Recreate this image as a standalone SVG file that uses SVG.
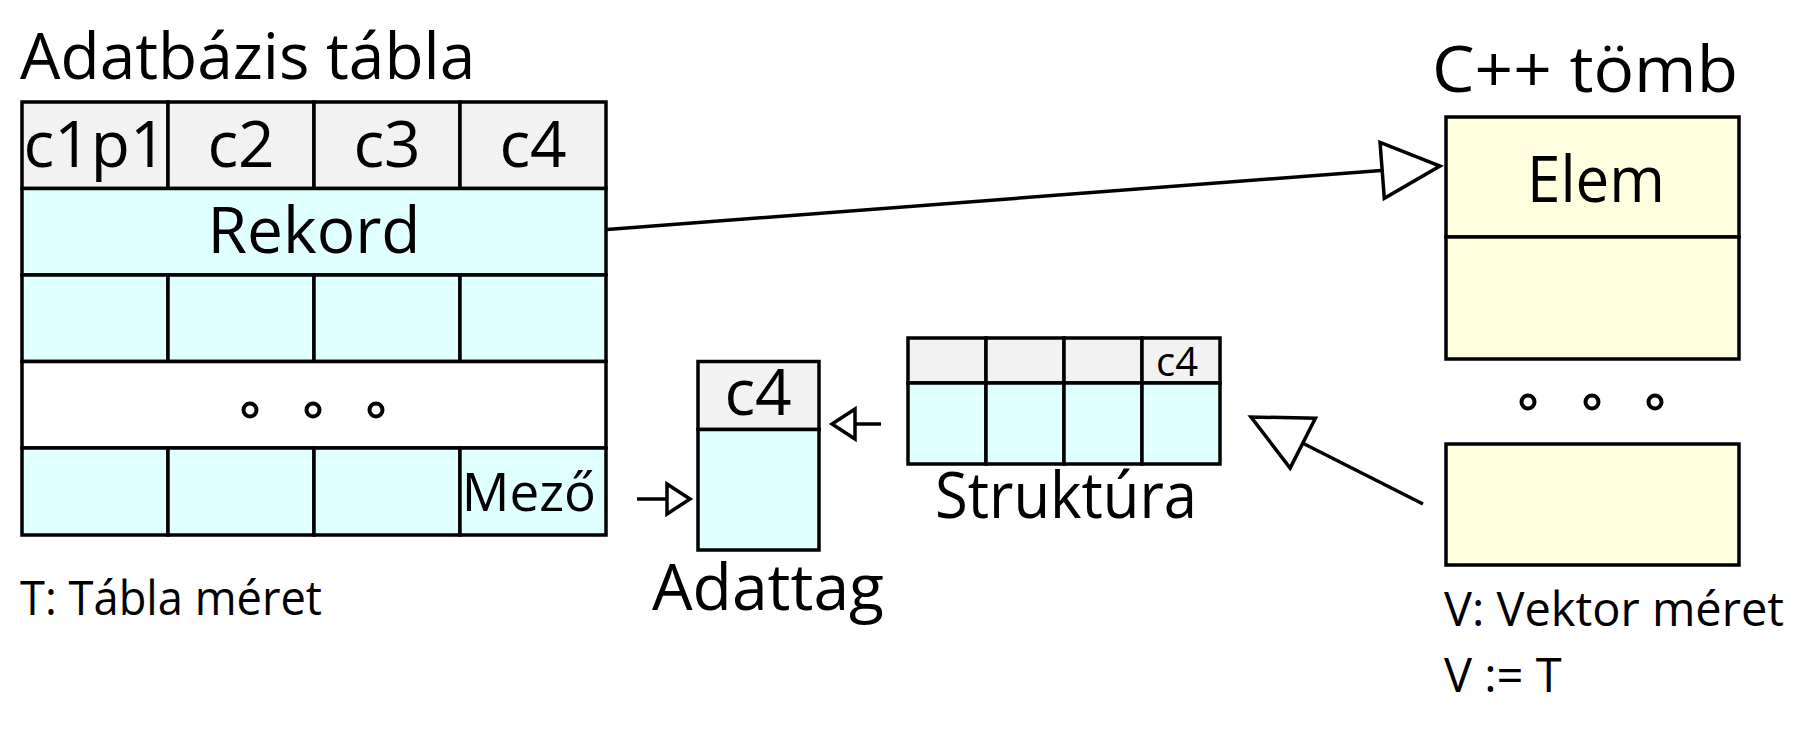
<svg xmlns="http://www.w3.org/2000/svg" width="1817" height="733" viewBox="0 0 1817 733">
<style>
  .cell { stroke: #000; stroke-width: 3.5; }
  .hd { fill: #f2f2f2; }
  .cy { fill: #e0ffff; }
  .wh { fill: #ffffff; }
  .ye { fill: #ffffe0; }
  text { font-family: "Open Sans", "Noto Sans", "DejaVu Sans", sans-serif; fill: #000; }
  .big { font-size: 64px; }
  .mid { font-size: 53px; }
  .sm { font-size: 47px; }
  .xs { font-size: 40px; }
  .c { text-anchor: middle; }
  .e { text-anchor: end; }
  .dot { fill: none; stroke: #000; stroke-width: 4; }
  .conn { fill: none; stroke: #000; stroke-width: 3.5; }
</style>
<defs>
  <marker id="bigTri" markerUnits="userSpaceOnUse" markerWidth="64" markerHeight="62" refX="58" refY="28" orient="auto" overflow="visible">
    <path d="M0,0 L58,28 L0,56 Z" fill="#fff" stroke="#000" stroke-width="3.5" stroke-linejoin="miter"/>
  </marker>
  <marker id="smallTri" markerUnits="userSpaceOnUse" markerWidth="28" markerHeight="34" refX="23" refY="15" orient="auto" overflow="visible">
    <path d="M0,0 L23,15 L0,30 Z" fill="#fff" stroke="#000" stroke-width="3.5"/>
  </marker>
</defs>

<g id="table">
  <text class="big" x="20" y="79">Adatbázis tábla</text>
  <rect class="cell hd" x="22" y="102" width="146" height="86.5"/>
  <rect class="cell hd" x="168" y="102" width="146" height="86.5"/>
  <rect class="cell hd" x="314" y="102" width="146" height="86.5"/>
  <rect class="cell hd" x="460" y="102" width="146" height="86.5"/>
  <text class="big c" x="95" y="167">c1p1</text>
  <text class="big c" x="241" y="167">c2</text>
  <text class="big c" x="387" y="167">c3</text>
  <text class="big c" x="533" y="167">c4</text>
  <rect class="cell cy" x="22" y="188.5" width="584" height="86.5"/>
  <text class="big c" x="314" y="253">Rekord</text>
  <rect class="cell cy" x="22" y="275" width="146" height="86.5"/>
  <rect class="cell cy" x="168" y="275" width="146" height="86.5"/>
  <rect class="cell cy" x="314" y="275" width="146" height="86.5"/>
  <rect class="cell cy" x="460" y="275" width="146" height="86.5"/>
  <rect class="cell wh" x="22" y="361.5" width="584" height="86.5"/>
  <circle class="dot" cx="250" cy="410" r="6.5"/>
  <circle class="dot" cx="313" cy="410" r="6.5"/>
  <circle class="dot" cx="376" cy="410" r="6.5"/>
  <rect class="cell cy" x="22" y="448" width="146" height="87"/>
  <rect class="cell cy" x="168" y="448" width="146" height="87"/>
  <rect class="cell cy" x="314" y="448" width="146" height="87"/>
  <rect class="cell cy" x="460" y="448" width="146" height="87"/>
  <text class="mid e" x="596" y="511">Mező</text>
  <text class="sm" x="20" y="615" textLength="302" lengthAdjust="spacingAndGlyphs">T: Tábla méret</text>
</g>

<g id="adattag">
  <rect class="cell hd" x="698" y="361.5" width="121" height="68"/>
  <text class="big c" x="758" y="415">c4</text>
  <rect class="cell cy" x="698" y="429.5" width="121" height="120.5"/>
  <text class="big c" x="768" y="610" textLength="232" lengthAdjust="spacingAndGlyphs">Adattag</text>
</g>

<g id="struktura">
  <rect class="cell hd" x="908" y="338" width="78" height="45"/>
  <rect class="cell hd" x="986" y="338" width="78" height="45"/>
  <rect class="cell hd" x="1064" y="338" width="78" height="45"/>
  <rect class="cell hd" x="1142" y="338" width="78" height="45"/>
  <text class="xs c" x="1177" y="376">c4</text>
  <rect class="cell cy" x="908" y="383" width="78" height="81"/>
  <rect class="cell cy" x="986" y="383" width="78" height="81"/>
  <rect class="cell cy" x="1064" y="383" width="78" height="81"/>
  <rect class="cell cy" x="1142" y="383" width="78" height="81"/>
  <text class="big c" x="1066" y="518" textLength="262" lengthAdjust="spacingAndGlyphs">Struktúra</text>
</g>

<g id="cpp-tomb">
  <text class="big c" x="1585" y="92" textLength="306" lengthAdjust="spacingAndGlyphs">C++ tömb</text>
  <rect class="cell ye" x="1446" y="117" width="293" height="120"/>
  <text class="big c" x="1596" y="202" textLength="138" lengthAdjust="spacingAndGlyphs">Elem</text>
  <rect class="cell ye" x="1446" y="237" width="293" height="122"/>
  <circle class="dot" cx="1528" cy="402" r="6.5"/>
  <circle class="dot" cx="1592" cy="402" r="6.5"/>
  <circle class="dot" cx="1655" cy="402" r="6.5"/>
</g>

<g id="vektor-elem">
  <rect class="cell ye" x="1446" y="444" width="293" height="121"/>
  <text class="sm" x="1444" y="626" textLength="340" lengthAdjust="spacingAndGlyphs">V: Vektor méret</text>
  <text class="sm" x="1444" y="692">V := T</text>
</g>

<g id="connectors">
  <line class="conn" x1="607" y1="229.5" x2="1440" y2="166" marker-end="url(#bigTri)"/>
  <line class="conn" x1="1423" y1="504" x2="1251" y2="417" marker-end="url(#bigTri)"/>
  <line class="conn" x1="881" y1="424" x2="832" y2="424" marker-end="url(#smallTri)"/>
  <line class="conn" x1="637" y1="499" x2="690" y2="499" marker-end="url(#smallTri)"/>
</g>
</svg>
